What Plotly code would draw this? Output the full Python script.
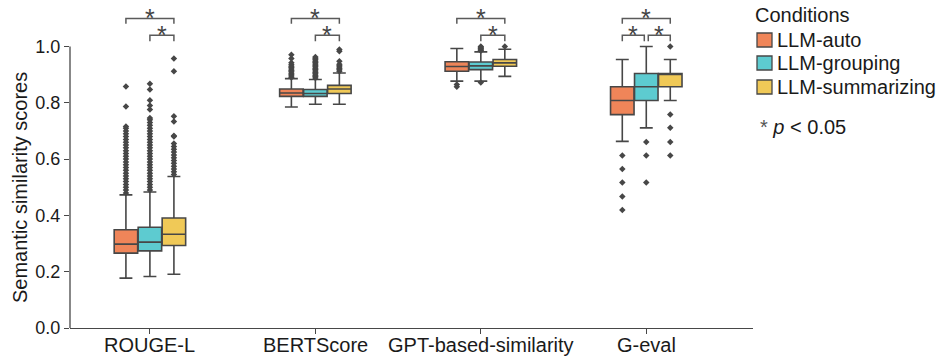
import plotly.graph_objects as go

# ---------------- data ----------------
metrics = ["ROUGE-L", "BERTScore", "GPT-based-similarity", "G-eval"]
conditions = ["LLM-auto", "LLM-grouping", "LLM-summarizing"]

auto_q1 = [0.266, 0.823, 0.912, 0.758]
auto_median = [0.298, 0.835, 0.929, 0.808]
auto_q3 = [0.349, 0.849, 0.946, 0.857]
auto_lower = [0.177, 0.785, 0.877, 0.663]
auto_upper = [0.473, 0.886, 0.993, 0.954]

grouping_q1 = [0.274, 0.823, 0.918, 0.808]
grouping_median = [0.305, 0.833, 0.931, 0.857]
grouping_q3 = [0.358, 0.847, 0.945, 0.904]
grouping_lower = [0.183, 0.795, 0.877, 0.711]
grouping_upper = [0.483, 0.883, 0.981, 1.000]

summarizing_q1 = [0.293, 0.833, 0.930, 0.857]
summarizing_median = [0.333, 0.849, 0.942, 0.904]
summarizing_q3 = [0.391, 0.862, 0.954, 0.904]
summarizing_lower = [0.191, 0.795, 0.894, 0.808]
summarizing_upper = [0.538, 0.906, 0.990, 0.954]

# outliers per metric (ROUGE-L, BERTScore, GPT-based-similarity, G-eval)
auto_outliers = [
    [0.480, 0.490, 0.500, 0.510, 0.520, 0.530, 0.540, 0.550, 0.560, 0.570,
     0.580, 0.590, 0.600, 0.610, 0.620, 0.630, 0.640, 0.650, 0.660, 0.670,
     0.680, 0.690, 0.700, 0.710, 0.716, 0.787, 0.858],
    [0.890, 0.895, 0.900, 0.905, 0.910, 0.915, 0.920, 0.925, 0.930, 0.935,
     0.942, 0.957, 0.971],
    [0.865, 0.857],
    [0.613, 0.565, 0.517, 0.467, 0.419],
]
grouping_outliers = [
    [0.490, 0.500, 0.510, 0.520, 0.530, 0.540, 0.550, 0.560, 0.570, 0.580,
     0.590, 0.600, 0.610, 0.620, 0.630, 0.640, 0.650, 0.660, 0.670, 0.680,
     0.690, 0.700, 0.710, 0.720, 0.730, 0.740, 0.746, 0.776, 0.790, 0.809,
     0.847, 0.868],
    [0.888, 0.893, 0.898, 0.903, 0.908, 0.913, 0.918, 0.923, 0.928, 0.933,
     0.938, 0.943, 0.948, 0.953, 0.958, 0.963],
    [0.872, 0.985, 0.988, 0.991, 0.994, 0.997, 1.000],
    [0.661, 0.613, 0.517],
]
summarizing_outliers = [
    [0.545, 0.555, 0.565, 0.575, 0.585, 0.595, 0.605, 0.615, 0.625, 0.635,
     0.645, 0.655, 0.680, 0.683, 0.734, 0.752, 0.912, 0.957],
    [0.912, 0.917, 0.922, 0.927, 0.932, 0.937, 0.948, 0.983, 0.989],
    [1.000],
    [1.000, 0.758, 0.711, 0.661, 0.613],
]

# significance pairs: (metric index, condition a, condition b)
sig_pairs = [(0, 0, 2), (0, 1, 2), (1, 0, 2), (1, 1, 2), (2, 0, 2), (2, 1, 2),
             (3, 0, 2), (3, 0, 1), (3, 1, 2)]

# ---------------- style ----------------
colors = ["#EF8559", "#5DCBD0", "#F0C957"]
edge = "#474747"
OFFSETS = [-0.145, 0.0, 0.145]
BOX_W = 0.142
FONT = "Liberation Sans, Arial, sans-serif"

W, H = 938, 358
ML, MR, MT, MB = 70, 185, 5, 30
PW, PH = W - ML - MR, H - MT - MB
Y_TOP = PH / 281.5
X_RANGE = [-0.483, 3.645]


def pxx(px):
    return (px - ML) / PW


def pxy(py):
    return (H - MB - py) / PH


fig = go.Figure()

stats = [
    (auto_q1, auto_median, auto_q3, auto_lower, auto_upper, auto_outliers),
    (grouping_q1, grouping_median, grouping_q3, grouping_lower, grouping_upper, grouping_outliers),
    (summarizing_q1, summarizing_median, summarizing_q3, summarizing_lower, summarizing_upper,
     summarizing_outliers),
]

for ci, (q1, med, q3, lo, hi, outs) in enumerate(stats):
    xs = [mi + OFFSETS[ci] for mi in range(len(metrics))]
    fig.add_trace(go.Box(
        x=xs, q1=q1, median=med, q3=q3, lowerfence=lo, upperfence=hi,
        width=BOX_W, fillcolor=colors[ci], line=dict(color=edge, width=1.6),
        whiskerwidth=0.55, boxpoints=False, name=conditions[ci],
        showlegend=False, hoverinfo="skip",
    ))
    ox, oy = [], []
    for mi, vals in enumerate(outs):
        ox += [mi + OFFSETS[ci]] * len(vals)
        oy += vals
    fig.add_trace(go.Scatter(
        x=ox, y=oy, mode="markers", showlegend=False, hoverinfo="skip",
        marker=dict(symbol="diamond", size=5, color=edge, line=dict(width=0)),
        cliponaxis=False,
    ))

shapes = []
annotations = []

# significance brackets
TOP_Y, TOP_DROP = 1.0995, 1.081
LOW_Y, LOW_DROP = 1.040, 1.019
for mi, a, b in sig_pairs:
    if (a, b) == (0, 2):
        yb, yd = TOP_Y, TOP_DROP
    else:
        yb, yd = LOW_Y, LOW_DROP
    xa = mi + OFFSETS[a]
    xb = mi + OFFSETS[b]
    if mi == 3 and (a, b) != (0, 2):
        if a == 1:
            xa += 0.012
        if b == 1:
            xb -= 0.012
    path = f"M {xa},{yd} L {xa},{yb} L {xb},{yb} L {xb},{yd}"
    shapes.append(dict(type="path", path=path, xref="x", yref="y",
                       line=dict(color="#5a5a5a", width=1.5)))
    annotations.append(dict(x=(xa + xb) / 2, y=yb + 0.001, xref="x", yref="y",
                            text="*", showarrow=False, yanchor="middle",
                            font=dict(family=FONT, size=25, color="#444444")))

# y axis line only from 0 to 1.0
shapes.append(dict(type="line", xref="paper", yref="paper", x0=0, x1=0,
                   y0=0, y1=1.0 / Y_TOP, line=dict(color=edge, width=1.3)))

# x category labels
for mi, name in enumerate(metrics):
    annotations.append(dict(x=mi, y=pxy(345), xref="x", yref="paper",
                            text=name, showarrow=False, xanchor="center",
                            yanchor="middle",
                            font=dict(family=FONT, size=20, color="#1a1a1a")))

# y-axis title
annotations.append(dict(x=pxx(20), y=pxy(188), xref="paper", yref="paper",
                        text="Semantic similarity scores", textangle=-90,
                        showarrow=False, xanchor="center", yanchor="middle",
                        font=dict(family=FONT, size=20, color="#1a1a1a")))

# legend
annotations.append(dict(x=pxx(753), y=pxy(15), xref="paper", yref="paper",
                        text="Conditions", showarrow=False, xanchor="left",
                        yanchor="middle", font=dict(family=FONT, size=20, color="#1a1a1a")))
leg_y = [40, 63, 87]
for ci, name in enumerate(conditions):
    cy = leg_y[ci]
    shapes.append(dict(type="rect", xref="paper", yref="paper",
                       x0=pxx(757), x1=pxx(772), y0=pxy(cy + 7), y1=pxy(cy - 7),
                       fillcolor=colors[ci], line=dict(color=edge, width=1.3)))
    annotations.append(dict(x=pxx(775), y=pxy(cy), xref="paper", yref="paper",
                            text=name, showarrow=False, xanchor="left",
                            yanchor="middle",
                            font=dict(family=FONT, size=20, color="#1a1a1a")))
annotations.append(dict(x=pxx(758), y=pxy(127), xref="paper", yref="paper",
                        text="<span style='color:#555555'>*</span> <i>p</i> &lt; 0.05",
                        showarrow=False, xanchor="left", yanchor="middle",
                        font=dict(family=FONT, size=20, color="#1a1a1a")))

fig.update_layout(
    width=W, height=H,
    margin=dict(l=ML, r=MR, t=MT, b=MB, pad=0, autoexpand=False),
    paper_bgcolor="white", plot_bgcolor="white",
    boxmode="overlay",
    font=dict(family=FONT, color="#1a1a1a"),
    shapes=shapes, annotations=annotations,
    xaxis=dict(range=X_RANGE, tickvals=list(range(len(metrics))),
               showticklabels=False,
               showline=True, linecolor=edge, linewidth=1.3, ticks="outside",
               ticklen=5, tickcolor=edge, tickwidth=1, showgrid=False,
               zeroline=False, automargin=False),
    yaxis=dict(range=[0, Y_TOP], tickvals=[0, 0.2, 0.4, 0.6, 0.8, 1.0],
               ticktext=["0.0", "0.2", "0.4", "0.6", "0.8", "1.0"],
               showline=False, ticks="outside", ticklen=5, tickcolor=edge,
               tickwidth=1, showgrid=False, zeroline=False, automargin=False,
               tickfont=dict(family=FONT, size=18, color="#1a1a1a")),
)

fig.write_html("out.html")
